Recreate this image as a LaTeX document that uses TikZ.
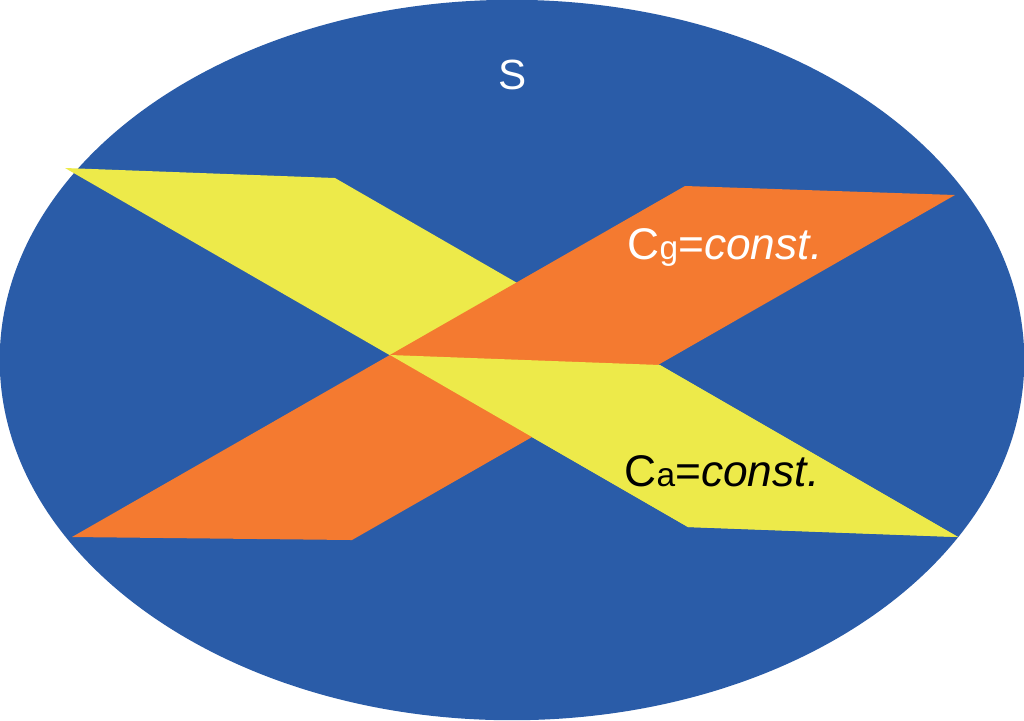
\documentclass[tikz,border=0pt]{standalone}
\usepackage{fontspec}
\setmainfont{Liberation Sans}
\definecolor{setblue}{RGB}{42,92,168}
\definecolor{planeorange}{RGB}{244,122,48}
\definecolor{planeyellow}{RGB}{237,234,74}
\tikzset{
  setarea/.style={fill=setblue},
  gplane/.style={fill=planeorange},
  aplane/.style={fill=planeyellow},
  planetext/.style={inner sep=0pt, anchor=base west, font=\fontsize{12.6}{15}\selectfont},
  settext/.style={inner sep=0pt, text=white, font=\fontsize{12}{14}\selectfont}
}

\begin{document}
\begin{tikzpicture}[x=0.01cm, y=-0.01cm]
  \useasboundingbox (0,0) rectangle (1024,720);
  \fill[setarea] (512,360) ellipse [x radius=5.12cm, y radius=3.6cm];
  \node[settext] (S) at (513,75) {S};

  % crossing point of the two planes
  \coordinate (X) at (390,355);
  \fill[aplane] (65,168) -- (335,178) -- (958,537) -- (688,527) -- cycle;
  \fill[gplane] (72,537) -- (685,186) -- (955,195) -- (352,540) -- cycle;
  \fill[aplane] (X) -- (660,365) -- (958,537) -- (688,527) -- cycle;

  \node[planetext, text=white] (Cg) at (627,259) {C{\fontsize{9.5}{10}\selectfont g}=\textit{const.}};
  \node[planetext, text=black] (Ca) at (624,486) {C{\fontsize{9.5}{10}\selectfont a}=\textit{const.}};
\end{tikzpicture}
\end{document}
